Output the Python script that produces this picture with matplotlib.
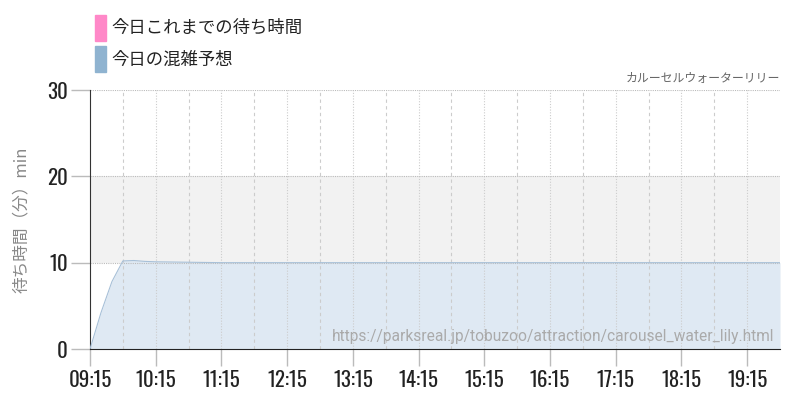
import matplotlib
matplotlib.use("Agg")
import matplotlib.pyplot as plt
import matplotlib.dates as mdates
from matplotlib.patches import Rectangle
import pandas as pd

plt.rcParams['font.family'] = ['Noto Sans CJK JP', 'DejaVu Sans']

# Data
legend_labels = ["今日これまでの待ち時間", "今日の混雑予想"]
legend_colors = ["#ff88c8", "#8fb3d0"]
forecast_times = ["09:15", "09:25", "09:35", "09:45", "09:55", "10:05", "10:15", "11:15", "12:15",
                  "13:15", "14:15", "15:15", "16:15", "17:15", "18:15", "19:15", "19:45"]
forecast_vals = [0, 4.2, 7.8, 10.2, 10.25, 10.15, 10.1, 10, 10, 10, 10, 10, 10, 10, 10, 10, 10]
tick_labels = ["09:15", "10:15", "11:15", "12:15", "13:15", "14:15", "15:15", "16:15", "17:15", "18:15", "19:15"]
y_ticks = [0, 10, 20, 30]
title = "カルーセルウォーターリリー"
ylabel = "待ち時間（分）min"
url = "https://parksreal.jp/tobuzoo/attraction/carousel_water_lily.html"

day = "2024-01-01 "
def T(s):
    return mdates.date2num(pd.Timestamp(day + s))

x = [T(t) for t in forecast_times]
xmin, xmax = T("09:15"), T("19:45")

fig = plt.figure(figsize=(8, 4), dpi=100)
ax = fig.add_axes([0.1125, 0.1275, 0.8625, 0.6475])
ax.set_xlim(xmin, xmax)
ax.set_ylim(0, 30)

# band 10-20
ax.axhspan(10, 20, color="#f2f2f2", zorder=0, lw=0)

ax.fill_between(x, forecast_vals, color="#dfe9f3", zorder=1, lw=0)
ax.plot(x, forecast_vals, color="#a7c0d8", lw=0.8, zorder=3)

# grid
for hh in range(9, 20):
    for mm in (15, 45):
        t = T(f"{hh:02d}:{mm:02d}")
        if xmin < t < xmax:
            ls = (0, (1, 1.5)) if mm == 15 else (0, (3, 3))
            ax.axvline(t, color="#cccccc", lw=0.8, ls=ls, zorder=2)
for yv in y_ticks[1:]:
    ax.axhline(yv, color="#bbbbbb", lw=0.8, ls=(0, (1, 1)), zorder=2)

ax.set_xticks([T(t) for t in tick_labels])
ax.set_xticklabels(tick_labels)
ax.set_yticks(y_ticks)
ax.set_yticklabels([str(v) for v in y_ticks])

cond = ['Oswald', 'Roboto Condensed', 'DejaVu Sans']
for lab in ax.get_xticklabels() + ax.get_yticklabels():
    lab.set_fontfamily(cond)
    lab.set_fontsize(15)
    lab.set_fontweight(200)
    lab.set_color("#222222")
ax.tick_params(axis='x', length=12, color="#bbbbbb", width=1, pad=3)
ax.tick_params(axis='y', length=14, color="#bbbbbb", width=1, pad=2)

for s in ("top", "right"):
    ax.spines[s].set_visible(False)
ax.spines["left"].set_color("#333333")
ax.spines["bottom"].set_color("#222222")
ax.spines["bottom"].set_zorder(5)

ax.set_ylabel(ylabel, color="#888888", fontsize=12, labelpad=12)

fig.text(0.975, 0.805, title, ha="right", va="center", color="#666666", fontsize=8.6)
ax.text(0.992, 0.05, url, transform=ax.transAxes, ha="right", va="center",
        color="#aaaaaa", fontsize=11.2, family=['Roboto', 'DejaVu Sans'], zorder=6)

# legend
for i, (lab, col) in enumerate(zip(legend_labels, legend_colors)):
    yc = 1 - (28 + i * 31.5) / 400
    fig.patches.append(Rectangle((95 / 800, yc - 13 / 400), 11 / 800, 26 / 400,
                                 transform=fig.transFigure, color=col, figure=fig))
    fig.text(111 / 800, yc, lab, ha="left", va="center", fontsize=12.5, color="#222222")

fig.savefig("out.png", dpi=100)
